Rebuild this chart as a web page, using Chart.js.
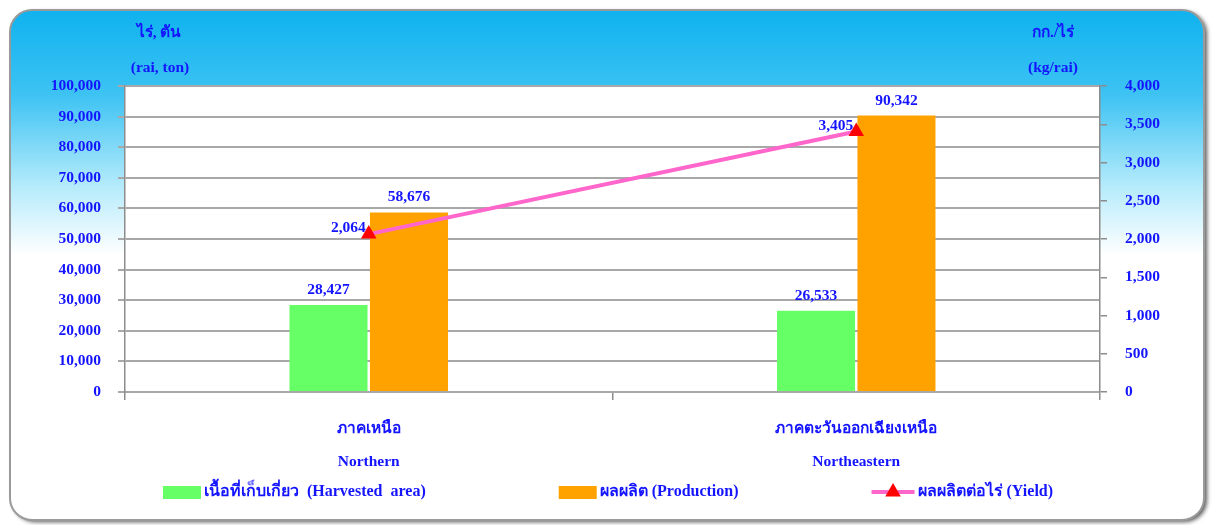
<!DOCTYPE html>
<html>
<head>
<meta charset="utf-8">
<script src="https://cdn.jsdelivr.net/npm/chart.js@4.4.1/dist/chart.umd.min.js"></script>
<style>
html, body { margin: 0; padding: 0; background: #fff; }
#wrap { width: 1216px; height: 525px; }
</style>
</head>
<body>
<div id="wrap"><canvas id="yieldChart"></canvas></div>
<script>
// data
var regions = [['ภาคเหนือ', 'Northern'], ['ภาคตะวันออกเฉียงเหนือ', 'Northeastern']];
var harvestedArea = [28427, 26533];
var production = [58676, 90342];
var yieldPerRai = [2064, 3405];
var leftTicks = [0, 10000, 20000, 30000, 40000, 50000, 60000, 70000, 80000, 90000, 100000];
var rightTicks = [0, 500, 1000, 1500, 2000, 2500, 3000, 3500, 4000];
var seriesNames = ['เนื้อที่เก็บเกี่ยว  (Harvested  area)', 'ผลผลิต (Production)', 'ผลผลิตต่อไร่ (Yield)'];
var leftTitle = ['ไร่, ตัน', '(rai, ton)'];
var rightTitle = ['กก./ไร่', '(kg/rai)'];

var FONT = '"Liberation Serif", "Times New Roman", serif';
var BLUE = '#1414ff';

function fmt(v) { return Number(v).toLocaleString('en-US'); }

// rounded blue panel behind everything
var panelBg = {
    id: 'panelBg',
    beforeDraw: function (chart) {
        var c = chart.ctx, x = 10, y = 10, w = chart.width - 22, h = chart.height - 15, r = 22;
        c.save();
        c.beginPath();
        c.moveTo(x + r, y);
        c.arcTo(x + w, y, x + w, y + h, r);
        c.arcTo(x + w, y + h, x, y + h, r);
        c.arcTo(x, y + h, x, y, r);
        c.arcTo(x, y, x + w, y, r);
        c.closePath();
        var g = c.createLinearGradient(0, y, 0, 255);
        g.addColorStop(0, '#0fb2ef');
        g.addColorStop(0.35, '#3ec3f3');
        g.addColorStop(0.72, '#b5ebfb');
        g.addColorStop(1, '#ffffff');
        c.shadowColor = 'rgba(0,0,0,0.65)';
        c.shadowBlur = 4;
        c.shadowOffsetX = 3;
        c.shadowOffsetY = 2;
        c.fillStyle = g;
        c.fill();
        c.shadowColor = 'transparent';
        c.lineWidth = 2;
        c.strokeStyle = '#9a9a9a';
        c.stroke();
        var a = chart.chartArea;
        c.fillStyle = '#ffffff';
        c.fillRect(a.left, a.top, a.right - a.left, a.bottom - a.top);
        c.restore();
    }
};

// axis unit titles and legend
var extras = {
    id: 'extras',
    afterDraw: function (chart) {
        var c = chart.ctx, a = chart.chartArea;
        c.save();
        c.fillStyle = BLUE;
        c.font = 'bold 15.5px ' + FONT;
        c.textAlign = 'center';
        c.textBaseline = 'middle';
        c.fillText(leftTitle[0], a.left + 34, 33);
        c.fillText(leftTitle[1], a.left + 35, 68);
        c.fillText(rightTitle[0], a.right - 47, 33);
        c.fillText(rightTitle[1], a.right - 47, 68);

        // legend
        c.font = 'bold 16px ' + FONT;
        var ds = chart.data.datasets, gap = 133, box = 38, ly = 492;
        var widths = ds.map(function (d) {
            return (d.type === 'line' ? 43 : box) + 3 + c.measureText(d.label).width;
        });
        var total = widths.reduce(function (s, v) { return s + v; }, 0) + gap * (ds.length - 1);
        var lx = (chart.width - total) / 2;
        c.textAlign = 'left';
        ds.forEach(function (d, i) {
            var sw;
            if (d.type === 'line') {
                sw = 43;
                c.strokeStyle = d.borderColor;
                c.lineWidth = 4;
                c.beginPath();
                c.moveTo(lx, ly);
                c.lineTo(lx + sw, ly);
                c.stroke();
                var cx = lx + sw / 2, rr = d.pointRadius;
                c.fillStyle = d.pointBackgroundColor;
                c.beginPath();
                c.moveTo(cx, ly - rr);
                c.lineTo(cx + rr * 0.866, ly + rr / 2);
                c.lineTo(cx - rr * 0.866, ly + rr / 2);
                c.closePath();
                c.fill();
            } else {
                sw = box;
                c.fillStyle = d.backgroundColor;
                c.fillRect(lx, ly - 6, sw, 13);
            }
            c.fillStyle = BLUE;
            c.fillText(d.label, lx + sw + 3, ly);
            lx += widths[i] + gap;
        });
        c.restore();
    }
};

// value labels
var valueLabels = {
    id: 'valueLabels',
    afterDatasetsDraw: function (chart) {
        var c = chart.ctx;
        c.save();
        c.fillStyle = BLUE;
        c.font = 'bold 15.5px ' + FONT;
        c.textBaseline = 'middle';
        chart.data.datasets.forEach(function (d, i) {
            var meta = chart.getDatasetMeta(i);
            meta.data.forEach(function (el, j) {
                if (d.type === 'line') {
                    c.textAlign = 'right';
                    c.fillText(fmt(d.data[j]), el.x - 3, el.y - 6);
                } else {
                    c.textAlign = 'center';
                    c.fillText(fmt(d.data[j]), el.x, el.y - 15);
                }
            });
        });
        c.restore();
    }
};

Chart.defaults.font.family = FONT;
Chart.defaults.font.size = 15.5;
Chart.defaults.font.weight = 'bold';
Chart.defaults.color = BLUE;

var ctx = document.getElementById('yieldChart').getContext('2d');
var myChart = new Chart(ctx, {
    type: 'bar',
    data: {
        labels: regions,
        datasets: [{
            label: seriesNames[0],
            data: harvestedArea,
            backgroundColor: '#66ff66',
            yAxisID: 'y',
            order: 2
        }, {
            label: seriesNames[1],
            data: production,
            backgroundColor: '#ffa200',
            yAxisID: 'y',
            order: 2
        }, {
            label: seriesNames[2],
            type: 'line',
            data: yieldPerRai,
            yAxisID: 'y1',
            borderColor: '#ff66cc',
            borderWidth: 4,
            pointStyle: 'triangle',
            pointRadius: 9,
            pointBackgroundColor: '#ff0000',
            pointBorderColor: '#ff0000',
            pointBorderWidth: 0,
            order: 1
        }]
    },
    options: {
        responsive: true,
        maintainAspectRatio: false,
        animation: false,
        datasets: {
            bar: { categoryPercentage: 0.33, barPercentage: 0.97 }
        },
        layout: { padding: { top: 86, left: 10, right: 0, bottom: 53 } },
        plugins: {
            legend: { display: false },
            tooltip: { enabled: false }
        },
        scales: {
            x: {
                grid: { offset: true, drawOnChartArea: false, drawTicks: true, tickLength: 8, color: '#8c8c8c', lineWidth: 1.5 },
                border: { color: '#a8a8a8', width: 2 },
                ticks: { padding: 12, maxRotation: 0, font: { size: 15.5, weight: 'bold', lineHeight: 2.15 } },
                afterFit: function (s) { s.height = 80; }
            },
            y: {
                position: 'left',
                min: leftTicks[0],
                max: leftTicks[leftTicks.length - 1],
                grid: { color: '#a8a8a8', lineWidth: 2, tickLength: 7 },
                border: { color: '#8c8c8c', width: 1.5 },
                ticks: { stepSize: leftTicks[1] - leftTicks[0], padding: 17, callback: fmt },
                afterFit: function (s) { s.width = 115; }
            },
            y1: {
                position: 'right',
                min: rightTicks[0],
                max: rightTicks[rightTicks.length - 1],
                grid: { drawOnChartArea: false, color: '#8c8c8c', lineWidth: 1.5, tickLength: 7 },
                border: { color: '#8c8c8c', width: 1.5 },
                ticks: { stepSize: rightTicks[1] - rightTicks[0], padding: 18, callback: fmt },
                afterFit: function (s) { s.width = 116; }
            }
        }
    },
    plugins: [panelBg, valueLabels, extras]
});
</script>
</body>
</html>
